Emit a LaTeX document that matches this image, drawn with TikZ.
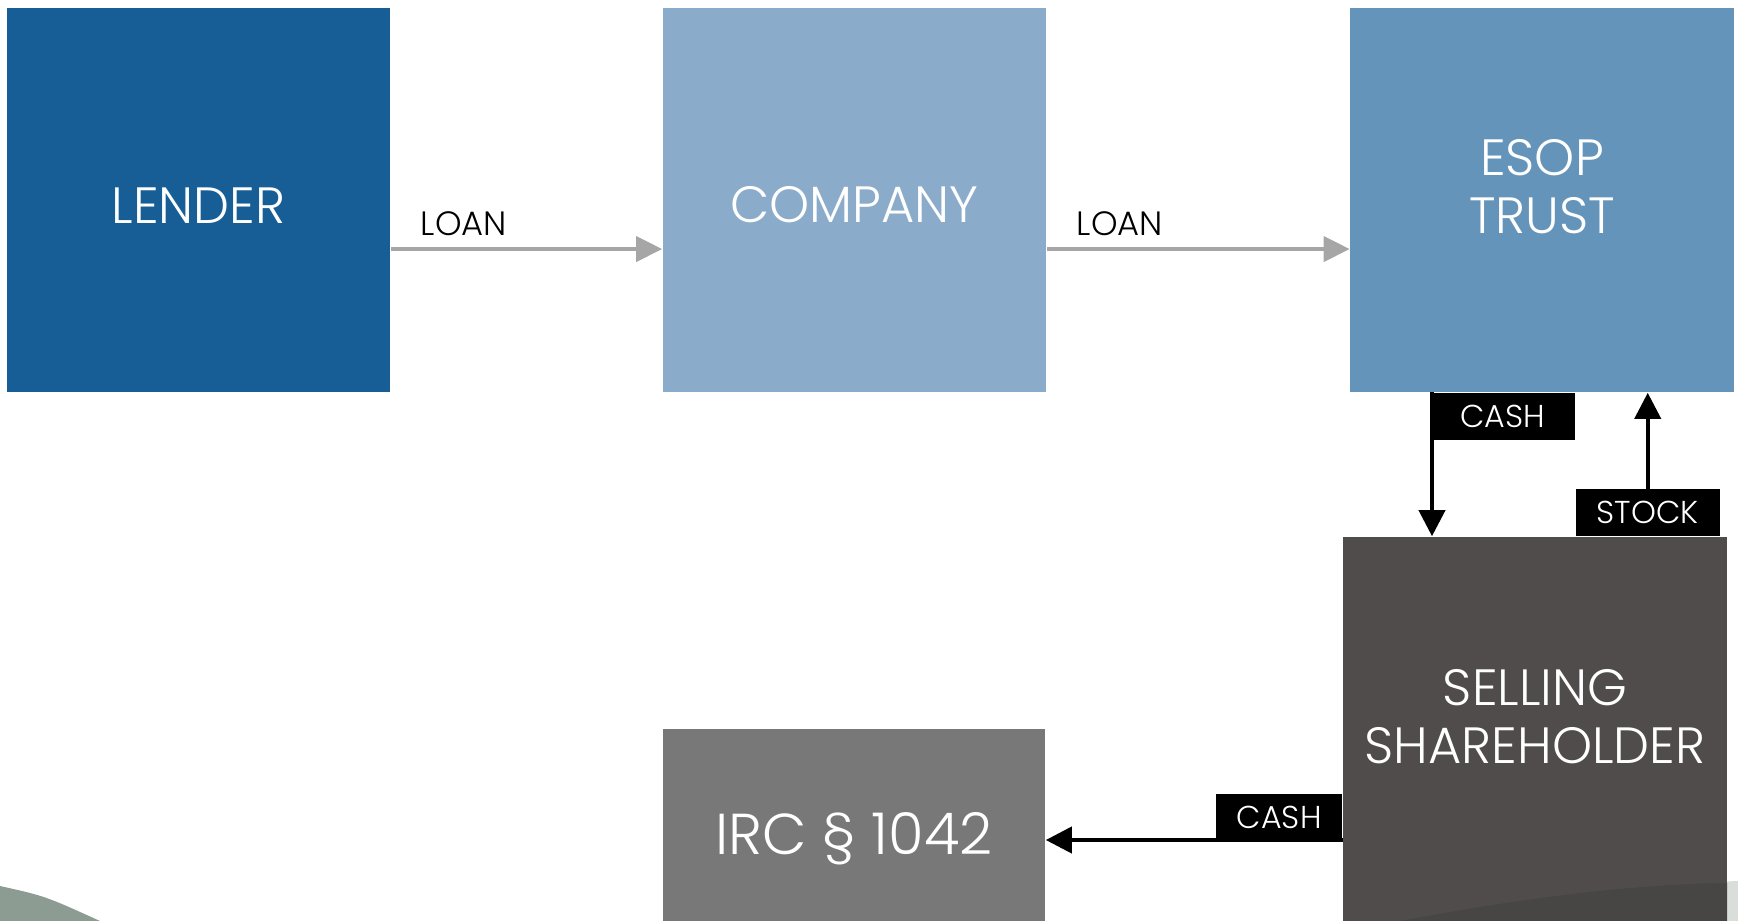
\documentclass[tikz,border=0pt]{standalone}
\usepackage{fontspec}
\IfFontExistsTF{Poppins Light}{\setmainfont{Poppins Light}}{\setmainfont{Poppins}}
\usetikzlibrary{arrows.meta}

\definecolor{lenderblue}{HTML}{175E97}
\definecolor{companyblue}{HTML}{8AACCA}
\definecolor{esopblue}{HTML}{6594BA}
\definecolor{holdergray}{HTML}{4F4C4B}
\definecolor{ircgray}{HTML}{787878}
\definecolor{loangray}{HTML}{A6A6A6}
\definecolor{leafgreen}{HTML}{8D9C93}
\definecolor{swooshlight}{HTML}{D9DEDB}
\definecolor{swooshdark}{HTML}{484644}

\newcommand{\boxfont}{\fontsize{14.5}{16.5}\selectfont}
\newcommand{\tagfont}{\fontsize{9}{11}\selectfont}

\begin{document}
\begin{tikzpicture}[x=0.01cm, y=-0.01cm,
  box/.style={rectangle, inner sep=0, minimum width=3.83cm, minimum height=3.84cm,
    text=white, font=\boxfont, align=center, text height=0.46cm},
  boxtext/.style={inner sep=0, text=white, font=\boxfont, align=center},
  tag/.style={fill=black, text=white, font=\tagfont, inner sep=0, minimum height=0.47cm},
  loan/.style={draw=loangray, line width=0.04cm, -{Triangle[length=0.26cm, width=0.25cm]}},
  flow/.style={draw=black, line width=0.04cm, -{Triangle[length=0.26cm, width=0.26cm]}},
  loanlabel/.style={font=\fontsize{9.6}{11}\selectfont, inner sep=0, anchor=base west, xshift=0.28cm, yshift=0.14cm}]
\useasboundingbox (0,0) rectangle (1738,920);
\clip (0,0) rectangle (1738,920);

\fill[leafgreen] (0,886) .. controls (45,896) .. (100,921) -- (0,921) -- cycle;
\fill[swooshlight] (1400,921) .. controls (1550,893) and (1650,884) .. (1738,881) -- (1738,921) -- cycle;

\node[box, fill=lenderblue] (lender) at (198.5,200) {LENDER};
\node[box, fill=companyblue] (company) at (854.5,200) {COMPANY};
\node[box, fill=esopblue] (esop) at (1542,200) {};
\node[boxtext] (esoptext) at (1542,187) {ESOP\\TRUST};
\node[box, fill=holdergray] (holder) at (1535,729) {};
\node[boxtext] (holdertext) at (1535,717) {SELLING\\SHAREHOLDER};
\node[box, fill=ircgray, minimum width=3.82cm, minimum height=2cm, font=\fontsize{16.4}{18}\selectfont,
  text height=0.62cm] (irc) at (854,829) {IRC § 1042};

\fill[swooshdark] (1400,921) .. controls (1550,893) and (1650,884) .. (1727,883) -- (1727,921) -- cycle;

\node[tag, minimum width=1.44cm, anchor=north west] (cashtop) at (1430,392) {CASH};
\node[tag, minimum width=1.44cm, anchor=south west] (stock) at (1575,537) {STOCK};
\node[tag, minimum width=1.26cm, anchor=south east] (cashlow) at (1343,842) {CASH};

\draw[loan] ([yshift=-0.49cm]lender.east) -- ([yshift=-0.49cm]company.west) node[loanlabel, pos=0] (loanone) {LOAN};
\draw[loan] ([yshift=-0.49cm]company.east) -- ([yshift=-0.49cm]esop.west) node[loanlabel, pos=0] (loantwo) {LOAN};
\draw[flow] ([xshift=0.02cm]cashtop.north west) -- ([xshift=0.02cm]cashtop.north west |- holder.north);
\draw[flow] (stock.north) -- (stock.north |- esop.south);
\draw[flow] ([yshift=0.02cm]cashlow.south east) -- ([yshift=0.02cm]cashlow.south east -| irc.east);
\end{tikzpicture}
\end{document}
